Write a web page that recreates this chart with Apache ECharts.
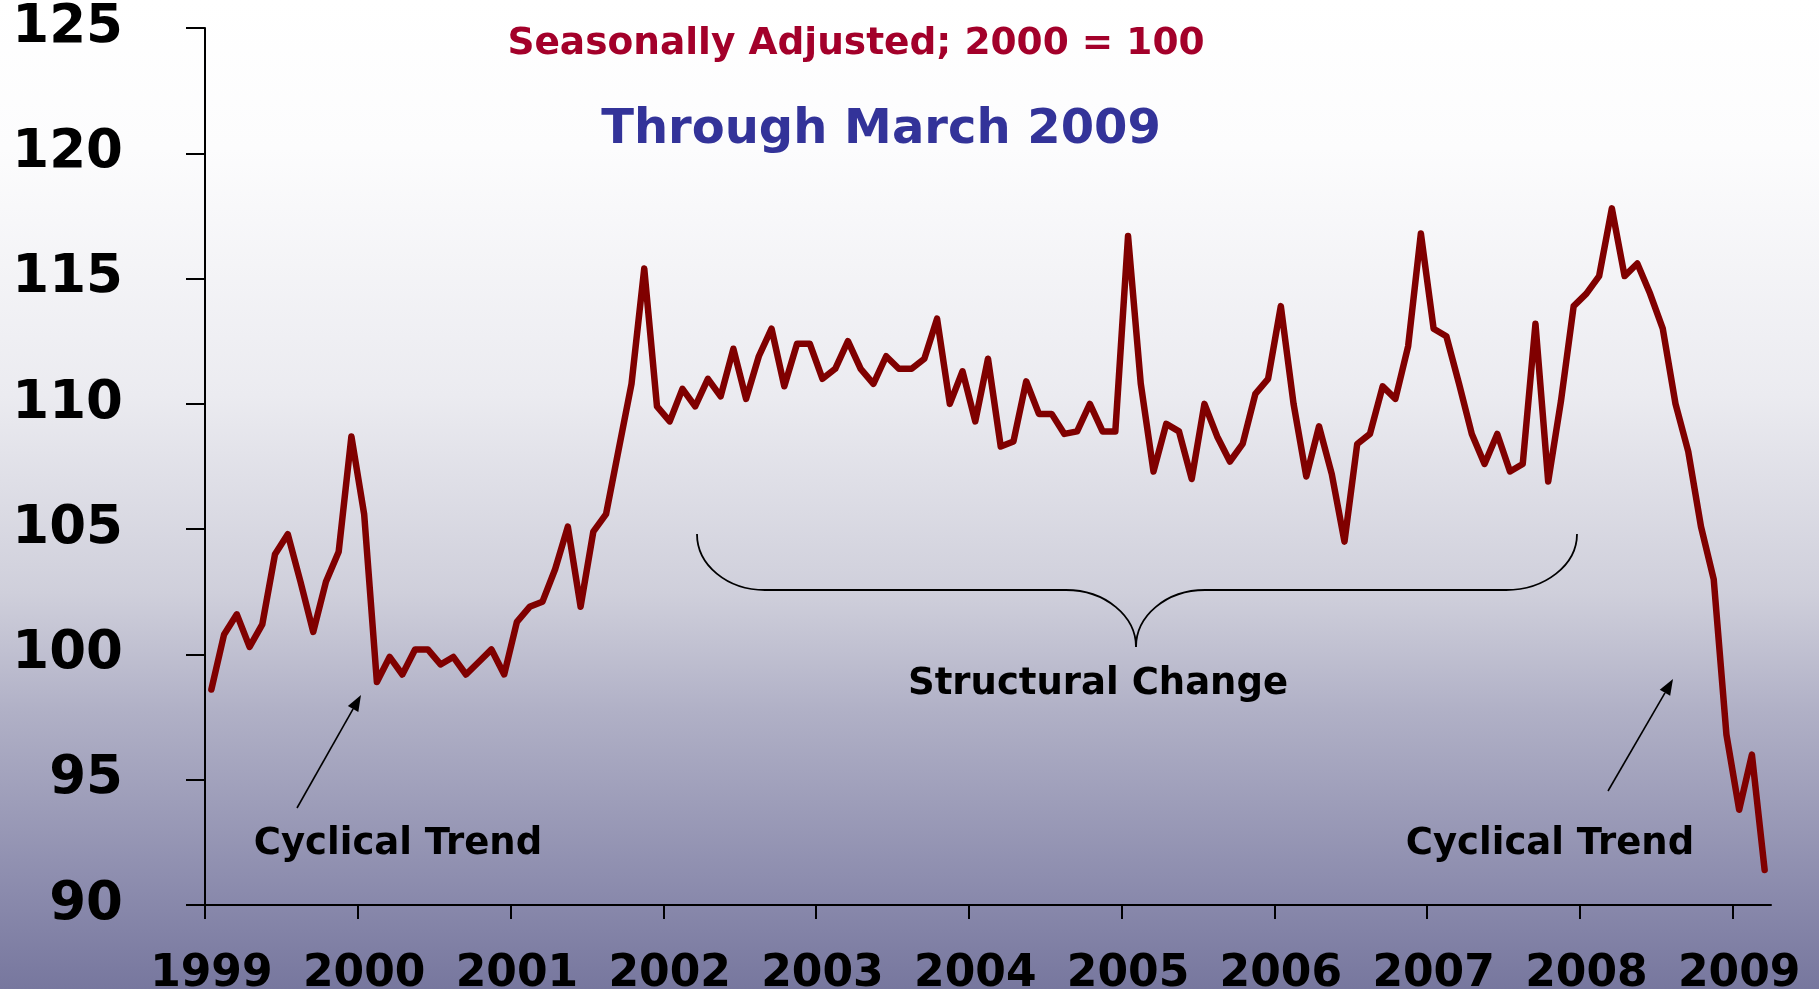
<!DOCTYPE html>
<html>
<head>
<meta charset="utf-8">
<script src="https://cdn.jsdelivr.net/npm/echarts@6/dist/echarts.min.js"></script>
<style>
    html, body { margin: 0; padding: 0; }
    #main { width: 1819px; height: 989px; }
</style>
</head>
<body>
<div id="main"></div>
<script>
// monthly index, seasonally adjusted, 2000 = 100
const years = ['1999', '2000', '2001', '2002', '2003', '2004', '2005', '2006', '2007', '2008', '2009'];
const v1999 = [98.6, 100.8, 101.6, 100.3, 101.2, 104.0, 104.8, 102.9, 100.9, 102.9, 104.1, 108.7];
const v2000 = [105.6, 98.9, 99.9, 99.2, 100.2, 100.2, 99.6, 99.9, 99.2, 99.7, 100.2, 99.2];
const v2001 = [101.3, 101.9, 102.1, 103.4, 105.1, 101.9, 104.9, 105.6, 108.2, 110.8, 115.4, 109.9];
const v2002 = [109.3, 110.6, 109.9, 111.0, 110.3, 112.2, 110.2, 111.9, 113.0, 110.7, 112.4, 112.4];
const v2003 = [111.0, 111.4, 112.5, 111.4, 110.8, 111.9, 111.4, 111.4, 111.8, 113.4, 110.0, 111.3];
const v2004 = [109.3, 111.8, 108.3, 108.5, 110.9, 109.6, 109.6, 108.8, 108.9, 110.0, 108.9, 108.9];
const v2005 = [116.7, 110.8, 107.3, 109.2, 108.9, 107.0, 110.0, 108.7, 107.7, 108.4, 110.4, 111.0];
const v2006 = [113.9, 110.0, 107.1, 109.1, 107.2, 104.5, 108.4, 108.8, 110.7, 110.2, 112.3, 116.8];
const v2007 = [113.0, 112.7, 110.8, 108.8, 107.6, 108.8, 107.3, 107.6, 113.2, 106.9, 110.1, 113.9];
const v2008 = [114.4, 115.1, 117.8, 115.1, 115.6, 114.4, 113.0, 110.0, 108.1, 105.1, 103.0, 96.8];
const v2009 = [93.8, 96.0, 91.4];
const yTicks = [90, 95, 100, 105, 110, 115, 120, 125];

const values = [].concat(v1999, v2000, v2001, v2002, v2003, v2004, v2005, v2006, v2007, v2008, v2009);
const monthCount = values.length;
// x = month index, point sits in the middle of its month
const seriesData = values.map((v, i) => [i + 0.5, v]);
const yearStarts = years.map((y, i) => i * 12);
const labelPos = years.map((y, i) => i * 12 + 0.5);

const FONT = '"DejaVu Sans", Verdana, sans-serif';
const lineStyle = {stroke: '#000', lineWidth: 1.8, fill: null};

function arrow(x1, y1, x2, y2) {
    const ang = Math.atan2(y2 - y1, x2 - x1);
    const len = 16, half = 6;
    const bx = x2 - len * Math.cos(ang), by = y2 - len * Math.sin(ang);
    return [
        {type: 'line', shape: {x1: x1, y1: y1, x2: bx, y2: by}, style: {stroke: '#000', lineWidth: 1.6}},
        {
            type: 'polygon',
            shape: {points: [[x2, y2], [bx + half * Math.sin(ang), by - half * Math.cos(ang)], [bx - half * Math.sin(ang), by + half * Math.cos(ang)]]},
            style: {fill: '#000'}
        }
    ];
}

function label(text, x, y, size, color) {
    return {
        type: 'text', x: x, y: y,
        style: {
            text: text, fill: color, fontSize: size, fontWeight: 'bold', fontFamily: FONT,
            align: 'center', verticalAlign: 'middle'
        }
    };
}

function curve(x1, y1, cpx1, cpy1, cpx2, cpy2, x2, y2) {
    return {type: 'bezierCurve', shape: {x1, y1, cpx1, cpy1, cpx2, cpy2, x2, y2}, style: lineStyle};
}

// curly brace under the middle years
const brace = [
    curve(697, 534, 697, 565, 727, 590, 765, 590),
    {type: 'line', shape: {x1: 765, y1: 590, x2: 1066, y2: 590}, style: lineStyle},
    curve(1066, 590, 1105, 590, 1136, 616, 1136, 647),
    curve(1136, 647, 1136, 616, 1166, 590, 1205, 590),
    {type: 'line', shape: {x1: 1205, y1: 590, x2: 1506, y2: 590}, style: lineStyle},
    curve(1506, 590, 1545, 590, 1577, 565, 1577, 534)
];

const chart = echarts.init(document.getElementById('main'));

const option = {
    animation: false,
    backgroundColor: {
        type: 'linear', x: 0, y: 0, x2: 0, y2: 1,
        colorStops: [
            {offset: 0, color: '#ffffff'},
            {offset: 0.15, color: '#fcfcfd'},
            {offset: 0.4, color: '#ebebf0'},
            {offset: 0.6, color: '#cfcfdb'},
            {offset: 0.72, color: '#b0b0c6'},
            {offset: 0.9, color: '#8b8bad'},
            {offset: 1, color: '#77779e'}
        ]
    },
    grid: {left: 205, right: 48, top: 28, bottom: 84, outerBoundsMode: 'none'},
    xAxis: {
        type: 'value',
        min: 0,
        max: monthCount,
        splitLine: {show: false},
        axisLine: {show: true, lineStyle: {color: '#000', width: 2}},
        axisTick: {show: true, length: 14, lineStyle: {color: '#000', width: 2}, customValues: yearStarts},
        axisLabel: {
            customValues: labelPos,
            margin: 48,
            color: '#000',
            fontSize: 44,
            fontWeight: 'bold',
            fontFamily: FONT,
            formatter: function (val) {
                return years[Math.floor(val / 12)];
            }
        }
    },
    yAxis: {
        type: 'value',
        min: yTicks[0],
        max: yTicks[yTicks.length - 1],
        interval: 5,
        splitLine: {show: false},
        axisLine: {show: true, lineStyle: {color: '#000', width: 2}},
        axisTick: {show: true, length: 19, lineStyle: {color: '#000', width: 2}},
        axisLabel: {
            margin: 82,
            color: '#000',
            fontSize: 53,
            fontWeight: 'bold',
            fontFamily: FONT
        }
    },
    series: [
        {
            type: 'line',
            data: seriesData,
            symbol: 'none',
            lineStyle: {color: '#800000', width: 6.5, join: 'round', cap: 'round'}
        }
    ],
    graphic: [
        label('Seasonally Adjusted; 2000 = 100', 856, 44, 37.5, '#a3002a'),
        label('Through March 2009', 881, 131, 48, '#333399'),
        label('Structural Change', 1098, 684, 37, '#000'),
        label('Cyclical Trend', 398, 844, 37, '#000'),
        label('Cyclical Trend', 1550, 844, 37, '#000')
    ].concat(brace, arrow(297, 808, 361, 695), arrow(1608, 791, 1673, 679))
};

chart.setOption(option);
</script>
</body>
</html>
